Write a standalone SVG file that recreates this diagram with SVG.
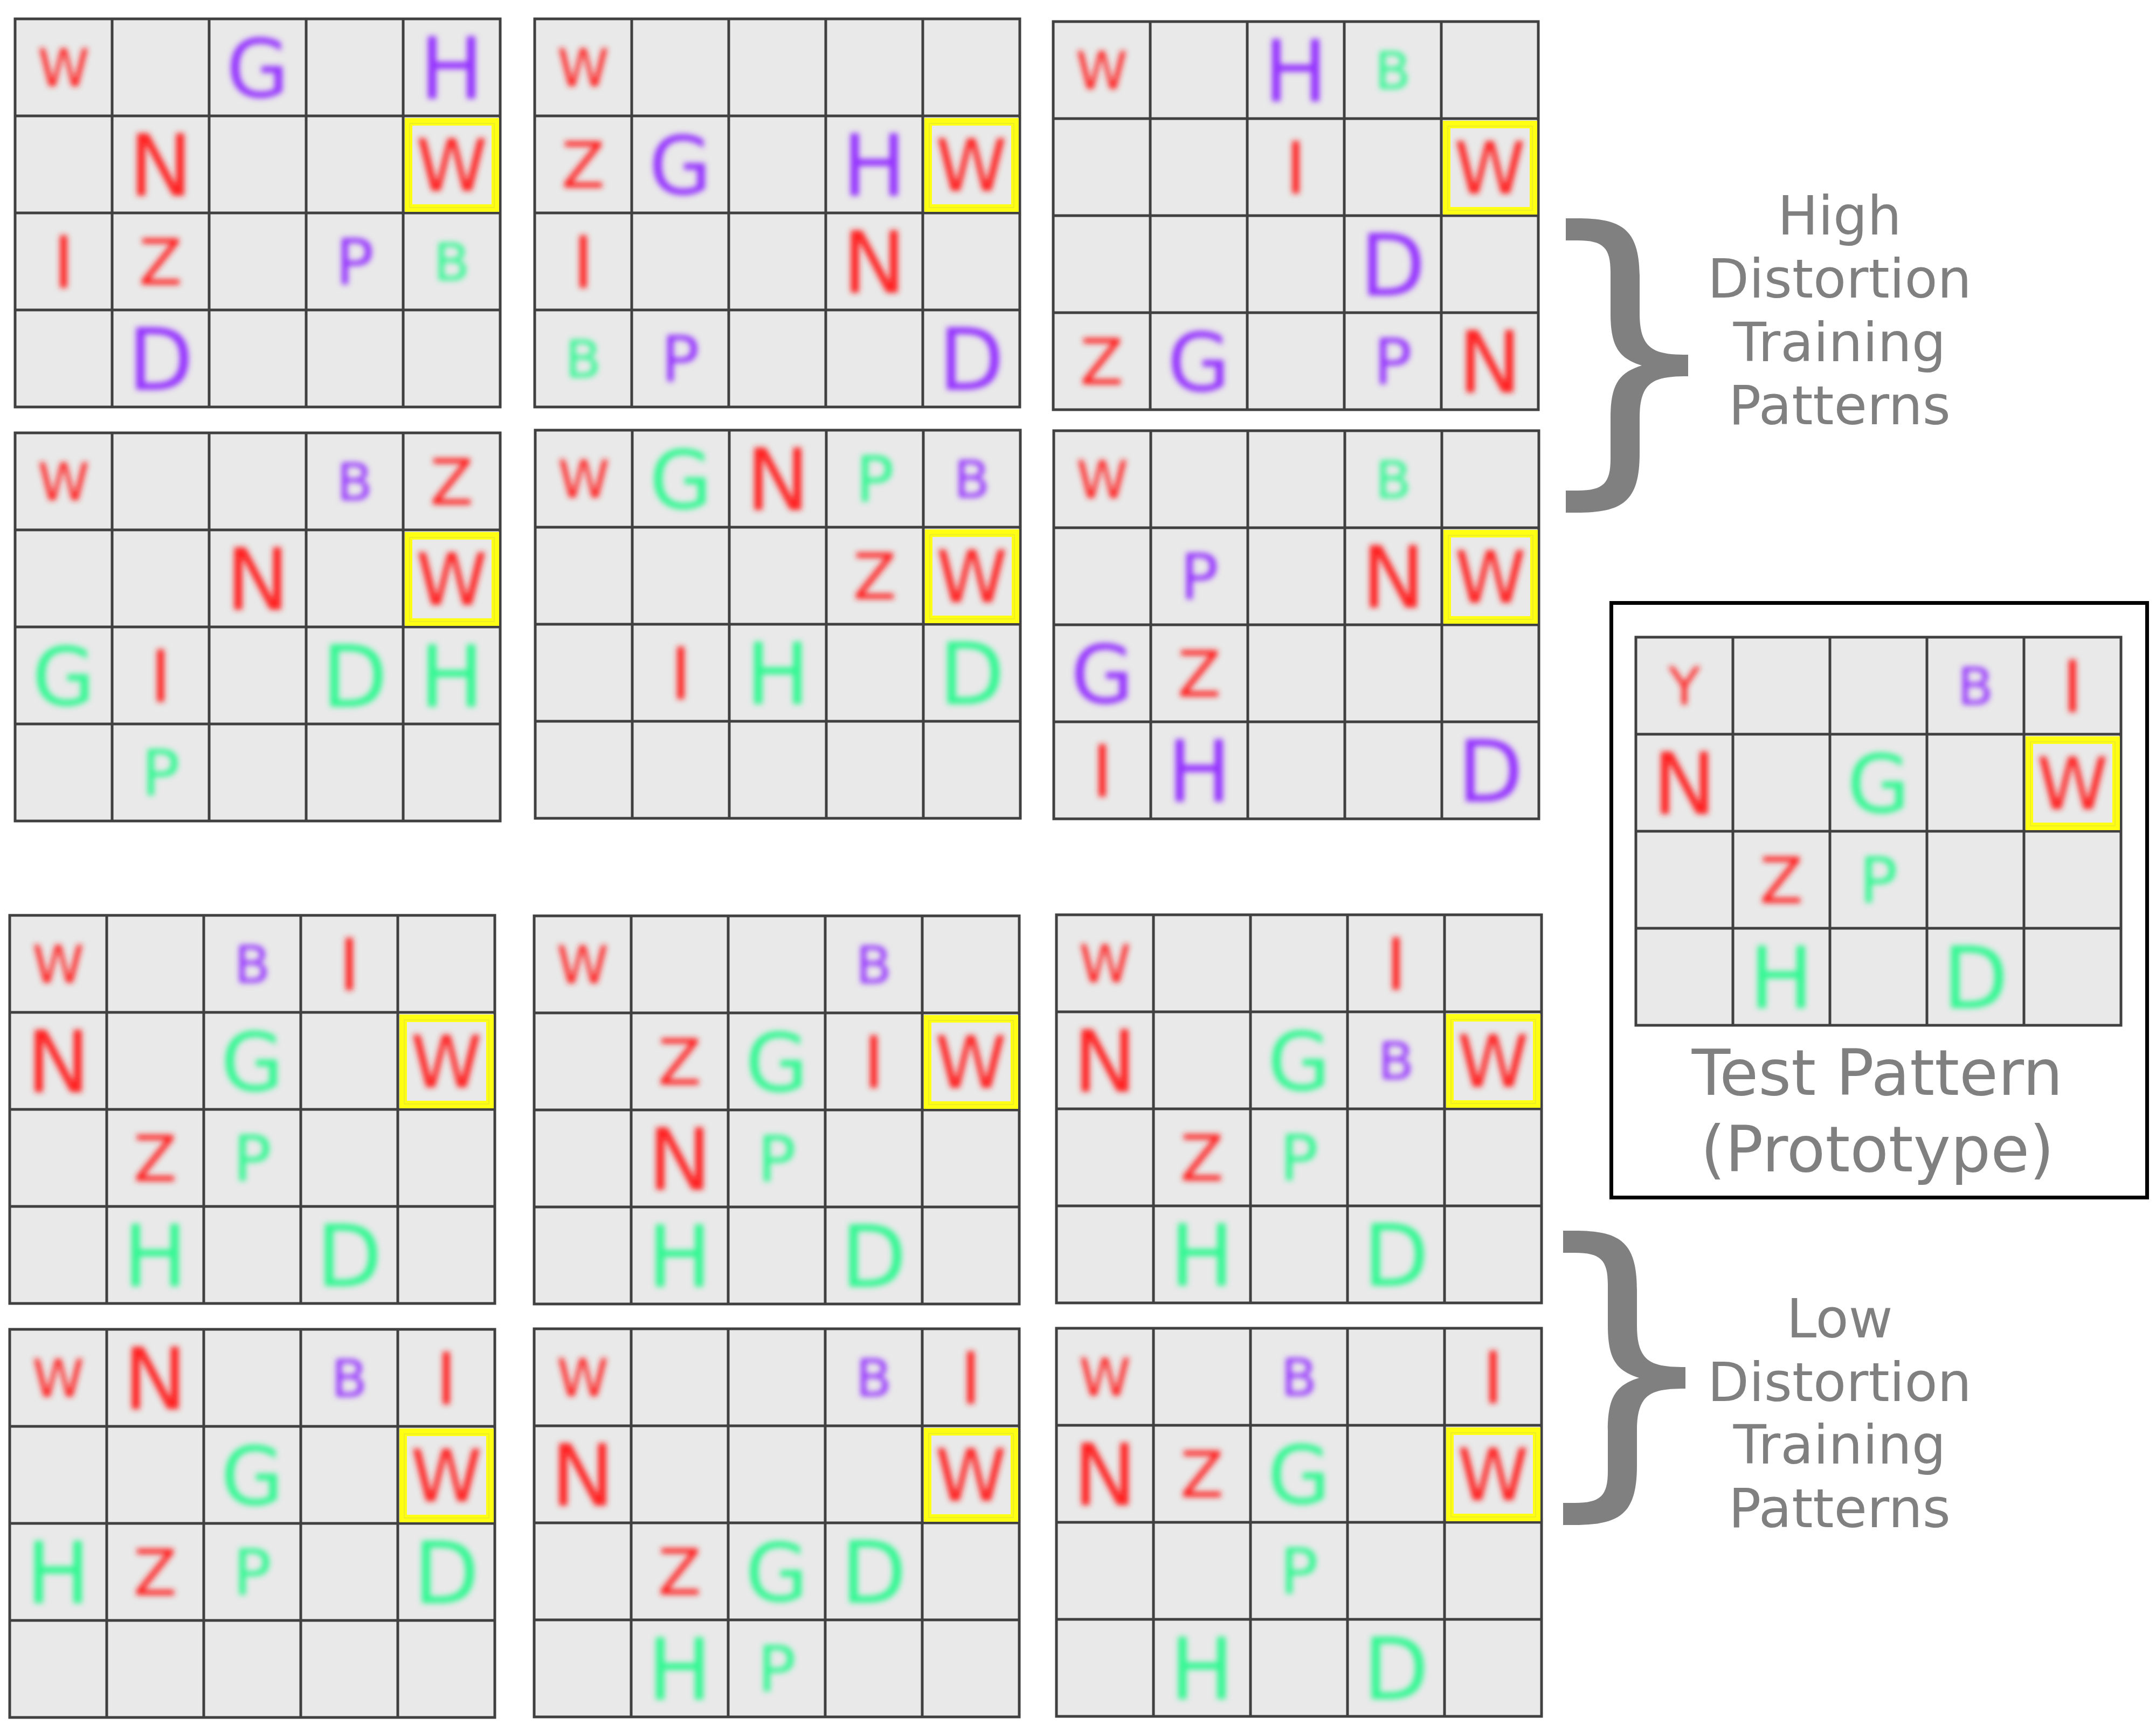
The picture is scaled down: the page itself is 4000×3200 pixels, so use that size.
<svg xmlns="http://www.w3.org/2000/svg" xmlns:xlink="http://www.w3.org/1999/xlink" width="4000" height="3200" viewBox="0 0 4000 3200">
<style>
text{font-family:"DejaVu Sans","Liberation Sans",sans-serif;text-anchor:middle}
.r{fill:#ff2020}.p{fill:#9432ff}.g{fill:#30f892}
.s{font-size:97px}.m{font-size:118px}.l{font-size:134px}.x{font-size:158px}.q{font-size:150px}
.lbl{fill:#808080;font-size:100px}
.tp{fill:#808080;font-size:117px}
</style>
<defs>
<filter id="blur" x="-5%" y="-5%" width="110%" height="110%"><feGaussianBlur stdDeviation="5.5"/></filter>
<g id="grid">
<rect x="0" y="0" width="900" height="720" fill="#e9e9e9"/>
<path d="M180 0V720M360 0V720M540 0V720M720 0V720M0 180H900M0 360H900M0 540H900" stroke="#404040" stroke-width="5" fill="none"/>
<rect x="0" y="0" width="900" height="720" fill="none" stroke="#404040" stroke-width="5"/>
</g>
<g id="hl">
<rect x="730" y="191" width="161" height="160" fill="none" stroke="#ffff14" stroke-width="14"/>
<rect x="732" y="194" width="157" height="156" fill="none" stroke="#d8d840" stroke-width="1.5" opacity="0.6"/>
</g>
<path id="brace" d="M2905,405 L2925,405 C3010,405 3042,425 3042,515 L3042,581 C3042,650 3070,658 3132,658 L3132,698 C3070,698 3042,706 3042,775 L3042,841 C3042,931 3010,951 2925,951 L2905,951 L2905,910 L2927,910 C2975,910 2988,896 2988,851 L2988,775 C2988,711 3005,691 3046,678 C3005,665 2988,645 2988,581 L2988,505 C2988,460 2975,446 2927,446 L2905,446 Z" fill="#808080"/>
</defs>
<rect width="4000" height="3200" fill="#ffffff"/>

<g id="grid-1" transform="translate(28,35)">
<use href="#grid"/><use href="#hl"/>
<g filter="url(#blur)">
<text class="r s" x="90" y="125">W</text>
<text class="p q" x="450" y="145">G</text>
<text class="p x" x="810" y="148">H</text>
<text class="r x" x="270" y="328">N</text>
<text class="r l" x="810" y="319">W</text>
<text class="r l" x="90" y="499">I</text>
<text class="r m" x="270" y="493">Z</text>
<text class="p m" x="630" y="493">P</text>
<text class="g s" x="810" y="485">B</text>
<text class="p x" x="270" y="688">D</text>
</g></g>

<g id="grid-2" transform="translate(992,35)">
<use href="#grid"/><use href="#hl"/>
<g filter="url(#blur)">
<text class="r s" x="90" y="125">W</text>
<text class="r m" x="90" y="313">Z</text>
<text class="p q" x="270" y="325">G</text>
<text class="p x" x="630" y="328">H</text>
<text class="r l" x="810" y="319">W</text>
<text class="r l" x="90" y="499">I</text>
<text class="r x" x="630" y="508">N</text>
<text class="g s" x="90" y="665">B</text>
<text class="p m" x="270" y="673">P</text>
<text class="p x" x="810" y="688">D</text>
</g></g>

<g id="grid-3" transform="translate(1954,40)">
<use href="#grid"/><use href="#hl"/>
<g filter="url(#blur)">
<text class="r s" x="90" y="125">W</text>
<text class="p x" x="450" y="148">H</text>
<text class="g s" x="630" y="125">B</text>
<text class="r l" x="450" y="319">I</text>
<text class="r l" x="810" y="319">W</text>
<text class="p x" x="630" y="508">D</text>
<text class="r m" x="90" y="673">Z</text>
<text class="p q" x="270" y="685">G</text>
<text class="p m" x="630" y="673">P</text>
<text class="r x" x="810" y="688">N</text>
</g></g>

<g id="grid-4" transform="translate(28,803)">
<use href="#grid"/><use href="#hl"/>
<g filter="url(#blur)">
<text class="r s" x="90" y="125">W</text>
<text class="p s" x="630" y="125">B</text>
<text class="r m" x="810" y="133">Z</text>
<text class="r x" x="450" y="328">N</text>
<text class="r l" x="810" y="319">W</text>
<text class="g q" x="90" y="505">G</text>
<text class="r l" x="270" y="499">I</text>
<text class="g x" x="630" y="508">D</text>
<text class="g x" x="810" y="508">H</text>
<text class="g m" x="270" y="673">P</text>
</g></g>

<g id="grid-5" transform="translate(993,798)">
<use href="#grid"/><use href="#hl"/>
<g filter="url(#blur)">
<text class="r s" x="90" y="125">W</text>
<text class="g q" x="270" y="145">G</text>
<text class="r x" x="450" y="148">N</text>
<text class="g m" x="630" y="133">P</text>
<text class="p s" x="810" y="125">B</text>
<text class="r m" x="630" y="313">Z</text>
<text class="r l" x="810" y="319">W</text>
<text class="r l" x="270" y="499">I</text>
<text class="g x" x="450" y="508">H</text>
<text class="g x" x="810" y="508">D</text>
</g></g>

<g id="grid-6" transform="translate(1955,799)">
<use href="#grid"/><use href="#hl"/>
<g filter="url(#blur)">
<text class="r s" x="90" y="125">W</text>
<text class="g s" x="630" y="125">B</text>
<text class="p m" x="270" y="313">P</text>
<text class="r x" x="630" y="328">N</text>
<text class="r l" x="810" y="319">W</text>
<text class="p q" x="90" y="505">G</text>
<text class="r m" x="270" y="493">Z</text>
<text class="r l" x="90" y="679">I</text>
<text class="p x" x="270" y="688">H</text>
<text class="p x" x="810" y="688">D</text>
</g></g>

<g id="grid-7" transform="translate(18,1698)">
<use href="#grid"/><use href="#hl"/>
<g filter="url(#blur)">
<text class="r s" x="90" y="125">W</text>
<text class="p s" x="450" y="125">B</text>
<text class="r l" x="630" y="139">I</text>
<text class="r x" x="90" y="328">N</text>
<text class="g q" x="450" y="325">G</text>
<text class="r l" x="810" y="319">W</text>
<text class="r m" x="270" y="493">Z</text>
<text class="g m" x="450" y="493">P</text>
<text class="g x" x="270" y="688">H</text>
<text class="g x" x="630" y="688">D</text>
</g></g>

<g id="grid-8" transform="translate(991,1699)">
<use href="#grid"/><use href="#hl"/>
<g filter="url(#blur)">
<text class="r s" x="90" y="125">W</text>
<text class="p s" x="630" y="125">B</text>
<text class="r m" x="270" y="313">Z</text>
<text class="g q" x="450" y="325">G</text>
<text class="r l" x="630" y="319">I</text>
<text class="r l" x="810" y="319">W</text>
<text class="r x" x="270" y="508">N</text>
<text class="g m" x="450" y="493">P</text>
<text class="g x" x="270" y="688">H</text>
<text class="g x" x="630" y="688">D</text>
</g></g>

<g id="grid-9" transform="translate(1960,1697)">
<use href="#grid"/><use href="#hl"/>
<g filter="url(#blur)">
<text class="r s" x="90" y="125">W</text>
<text class="r l" x="630" y="139">I</text>
<text class="r x" x="90" y="328">N</text>
<text class="g q" x="450" y="325">G</text>
<text class="p s" x="630" y="305">B</text>
<text class="r l" x="810" y="319">W</text>
<text class="r m" x="270" y="493">Z</text>
<text class="g m" x="450" y="493">P</text>
<text class="g x" x="270" y="688">H</text>
<text class="g x" x="630" y="688">D</text>
</g></g>

<g id="grid-10" transform="translate(18,2466)">
<use href="#grid"/><use href="#hl"/>
<g filter="url(#blur)">
<text class="r s" x="90" y="125">W</text>
<text class="r x" x="270" y="148">N</text>
<text class="p s" x="630" y="125">B</text>
<text class="r l" x="810" y="139">I</text>
<text class="g q" x="450" y="325">G</text>
<text class="r l" x="810" y="319">W</text>
<text class="g x" x="90" y="508">H</text>
<text class="r m" x="270" y="493">Z</text>
<text class="g m" x="450" y="493">P</text>
<text class="g x" x="810" y="508">D</text>
</g></g>

<g id="grid-11" transform="translate(991,2465)">
<use href="#grid"/><use href="#hl"/>
<g filter="url(#blur)">
<text class="r s" x="90" y="125">W</text>
<text class="p s" x="630" y="125">B</text>
<text class="r l" x="810" y="139">I</text>
<text class="r x" x="90" y="328">N</text>
<text class="r l" x="810" y="319">W</text>
<text class="r m" x="270" y="493">Z</text>
<text class="g q" x="450" y="505">G</text>
<text class="g x" x="630" y="508">D</text>
<text class="g x" x="270" y="688">H</text>
<text class="g m" x="450" y="673">P</text>
</g></g>

<g id="grid-12" transform="translate(1960,2464)">
<use href="#grid"/><use href="#hl"/>
<g filter="url(#blur)">
<text class="r s" x="90" y="125">W</text>
<text class="p s" x="450" y="125">B</text>
<text class="r l" x="810" y="139">I</text>
<text class="r x" x="90" y="328">N</text>
<text class="r m" x="270" y="313">Z</text>
<text class="g q" x="450" y="325">G</text>
<text class="r l" x="810" y="319">W</text>
<text class="g m" x="450" y="493">P</text>
<text class="g x" x="270" y="688">H</text>
<text class="g x" x="630" y="688">D</text>
</g></g>

<g id="test-pattern">
<rect x="2989.5" y="1118.5" width="994" height="1103" fill="none" stroke="#000000" stroke-width="7"/>
<g transform="translate(3035,1182)">
<use href="#grid"/><use href="#hl"/>
<g filter="url(#blur)">
<text class="r s" x="90" y="125">Y</text>
<text class="p s" x="630" y="125">B</text>
<text class="r l" x="810" y="139">I</text>
<text class="r x" x="90" y="328">N</text>
<text class="g q" x="450" y="325">G</text>
<text class="r l" x="810" y="319">W</text>
<text class="r m" x="270" y="493">Z</text>
<text class="g m" x="450" y="493">P</text>
<text class="g x" x="270" y="688">H</text>
<text class="g x" x="630" y="688">D</text>
</g></g>
<text class="tp" x="3483" y="2031">Test Pattern</text>
<text class="tp" x="3483" y="2173">(Prototype)</text>
</g>

<g id="high-label">
<use href="#brace"/>
<text class="lbl" x="3413" y="435">High</text>
<text class="lbl" x="3413" y="552">Distortion</text>
<text class="lbl" x="3413" y="670">Training</text>
<text class="lbl" x="3413" y="787">Patterns</text>
</g>

<g id="low-label">
<use href="#brace" transform="translate(-5,1878)"/>
<text class="lbl" x="3413" y="2481">Low</text>
<text class="lbl" x="3413" y="2599">Distortion</text>
<text class="lbl" x="3413" y="2715">Training</text>
<text class="lbl" x="3413" y="2833">Patterns</text>
</g>
</svg>
